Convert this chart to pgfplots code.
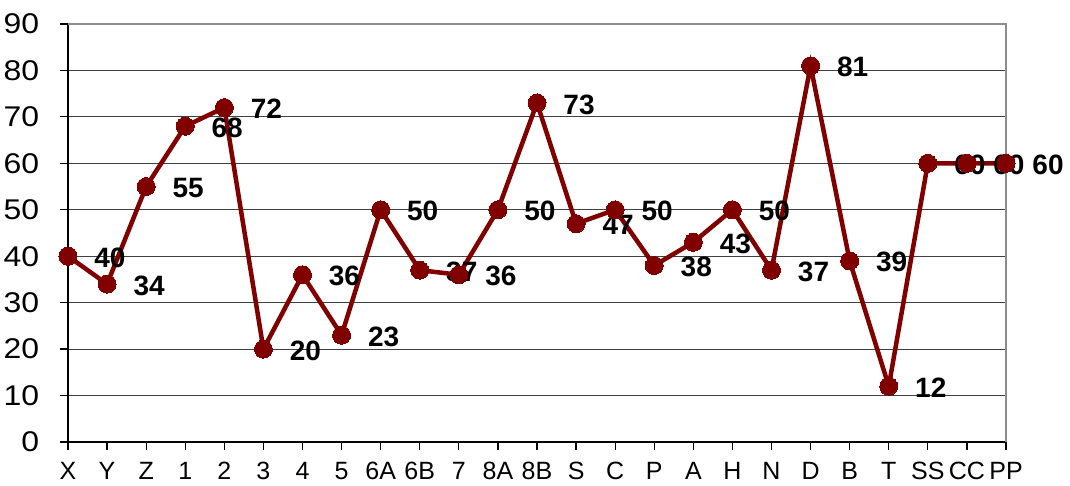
\documentclass[border=0pt]{standalone}
\usepackage{pgfplots}
\pgfplotsset{compat=1.18}
\usepackage{fontspec}
\setmainfont{Liberation Sans}
\definecolor{maroon}{RGB}{128,0,0}

\begin{document}
\begin{tikzpicture}
\begin{axis}[
  name=ax,
  scale only axis,
  width=938pt, height=418pt,
  xmin=0, xmax=24, ymin=0, ymax=90,
  axis x line*=bottom, axis y line*=left,
  axis line style={-, black, line width=1.3pt},
  xtick={0,...,24},
  xticklabels={X,Y,Z,1,2,3,4,5,6A,6B,7,8A,8B,S,C,P,A,H,N,D,B,T,SS,CC,PP},
  ytick={0,10,...,90},
  ymajorgrids,
  grid style={black!75, line width=1pt},
  tick align=outside,
  major tick length=8pt,
  tick style={black, line width=1.2pt},
  xticklabel style={font=\fontsize{25}{29}\selectfont, yshift=-9pt},
  yticklabel style={font=\fontsize{28.5}{32}\selectfont, xscale=1.12, xshift=-15pt},
  /pgf/number format/assume math mode=true,
  clip=false,
  nodes near coords,
  nodes near coords style={font=\fontsize{28}{32}\selectfont\bfseries,
    anchor=center, xshift=42pt, yshift=-1.5pt, text=black},
]
\draw[black!45, line width=2.5pt] (rel axis cs:0,1) -- (rel axis cs:1,1) -- (rel axis cs:1,0);
\addplot[color=maroon, line width=4.5pt, mark=*, mark size=9pt,
  mark options={fill=maroon, draw=maroon, line width=0pt}]
  coordinates {
  (0,40) (1,34) (2,55) (3,68) (4,72) (5,20) (6,36) (7,23) (8,50) (9,37)
  (10,36) (11,50) (12,73) (13,47) (14,50) (15,38) (16,43) (17,50) (18,37)
  (19,81) (20,39) (21,12) (22,60) (23,60) (24,60)
  };
\end{axis}
\path (ax.south west) ++(-68pt,-44pt) coordinate (bl);
\path (ax.north east) ++(64pt,24pt) coordinate (tr);
\path (bl) rectangle (tr);
\end{tikzpicture}
\end{document}
